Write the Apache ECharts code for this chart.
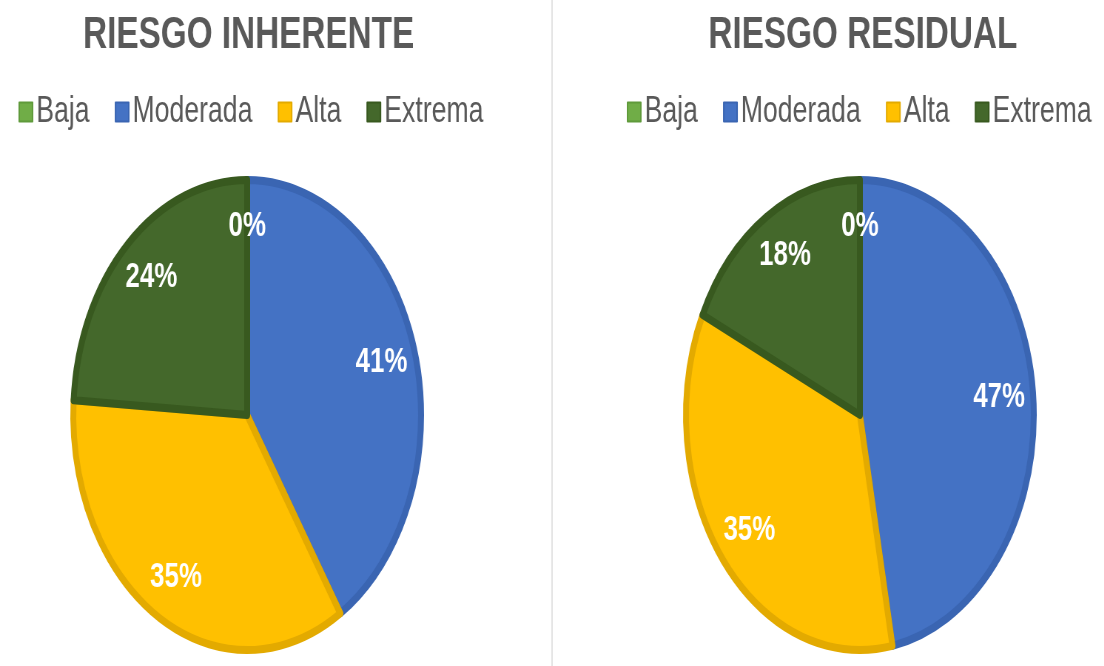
<!DOCTYPE html>
<html>
<head>
<meta charset="utf-8">
<script src="https://cdn.jsdelivr.net/npm/echarts@6/dist/echarts.min.js"></script>
<style>
    html, body { margin: 0; padding: 0; background: #fff; overflow: hidden; }
    /* the source picture is squeezed sideways, so the chart is drawn wide and scaled */
    #chartRiesgo { width: 1492px; height: 666px; transform: scaleX(0.74); transform-origin: 0 0; }
</style>
</head>
<body>
<div id="chartRiesgo"></div>
<script>
var categorias = ['Baja', 'Moderada', 'Alta', 'Extrema'];
var valoresInherente = [0, 41, 35, 24];
var valoresResidual = [0, 47, 35, 18];
var titulos = ['RIESGO INHERENTE', 'RIESGO RESIDUAL'];

var colores = ['#70AD47', '#4472C4', '#FFC000', '#44682B'];
var bordes = ['#5F9A3B', '#3A65B2', '#E3AA00', '#38591F'];

function buildData(valores) {
    return categorias.map(function(nombre, i) {
        return {
            name: nombre,
            value: valores[i],
            itemStyle: { color: colores[i], borderColor: bordes[i] }
        };
    });
}

function pieSeries(valores, cx) {
    return [{
            // visible slices
            type: 'pie',
            center: [cx, 415],
            radius: [0, 235],
            startAngle: 90,
            clockwise: true,
            silent: true,
            label: { show: false },
            labelLine: { show: false },
            itemStyle: { borderWidth: 8 },
            data: buildData(valores)
        },
        {
            // transparent ring only used to place the labels further out
            type: 'pie',
            center: [cx, 415],
            radius: [134, 238],
            startAngle: 90,
            clockwise: true,
            silent: true,
            itemStyle: { color: 'transparent', borderWidth: 0 },
            label: {
                show: true,
                position: 'inside',
                color: '#fff',
                fontSize: 35,
                fontWeight: 'bold',
                fontFamily: 'Liberation Sans',
                formatter: function(p) {
                    return Math.round(p.value) + '%';
                }
            },
            labelLine: { show: false },
            data: categorias.map(function(nombre, i) {
                return { name: nombre, value: valores[i] };
            })
        }
    ];
}

var legendBase = {
    orient: 'horizontal',
    top: 89,
    width: 700,
    itemWidth: 18,
    itemHeight: 19,
    itemGap: 34,
    icon: 'rect',
    selectedMode: false,
    data: categorias,
    textStyle: {
        color: '#595959',
        fontSize: 36,
        fontFamily: 'Liberation Sans'
    }
};

var myChart = echarts.init(document.getElementById('chartRiesgo'));
var option = {
    backgroundColor: '#fff',
    animation: false,
    title: [{
            text: titulos[0],
            left: 331,
            top: 8,
            textAlign: 'center',
            textStyle: { color: '#595959', fontSize: 45, fontWeight: 'bold', fontFamily: 'Liberation Sans' }
        },
        {
            text: titulos[1],
            left: 1161,
            top: 8,
            textAlign: 'center',
            textStyle: { color: '#595959', fontSize: 45, fontWeight: 'bold', fontFamily: 'Liberation Sans' }
        }
    ],
    legend: [
        Object.assign({}, legendBase, { left: 20 }),
        Object.assign({}, legendBase, { left: 842 })
    ],
    graphic: [{
        type: 'line',
        silent: true,
        shape: { x1: 746, y1: 0, x2: 746, y2: 666 },
        style: { stroke: '#D9D9D9', lineWidth: 1.4 }
    }],
    series: pieSeries(valoresInherente, 334).concat(pieSeries(valoresResidual, 1162))
};
myChart.setOption(option);

window.addEventListener('resize', function() {
    myChart.resize();
});
</script>
</body>
</html>
